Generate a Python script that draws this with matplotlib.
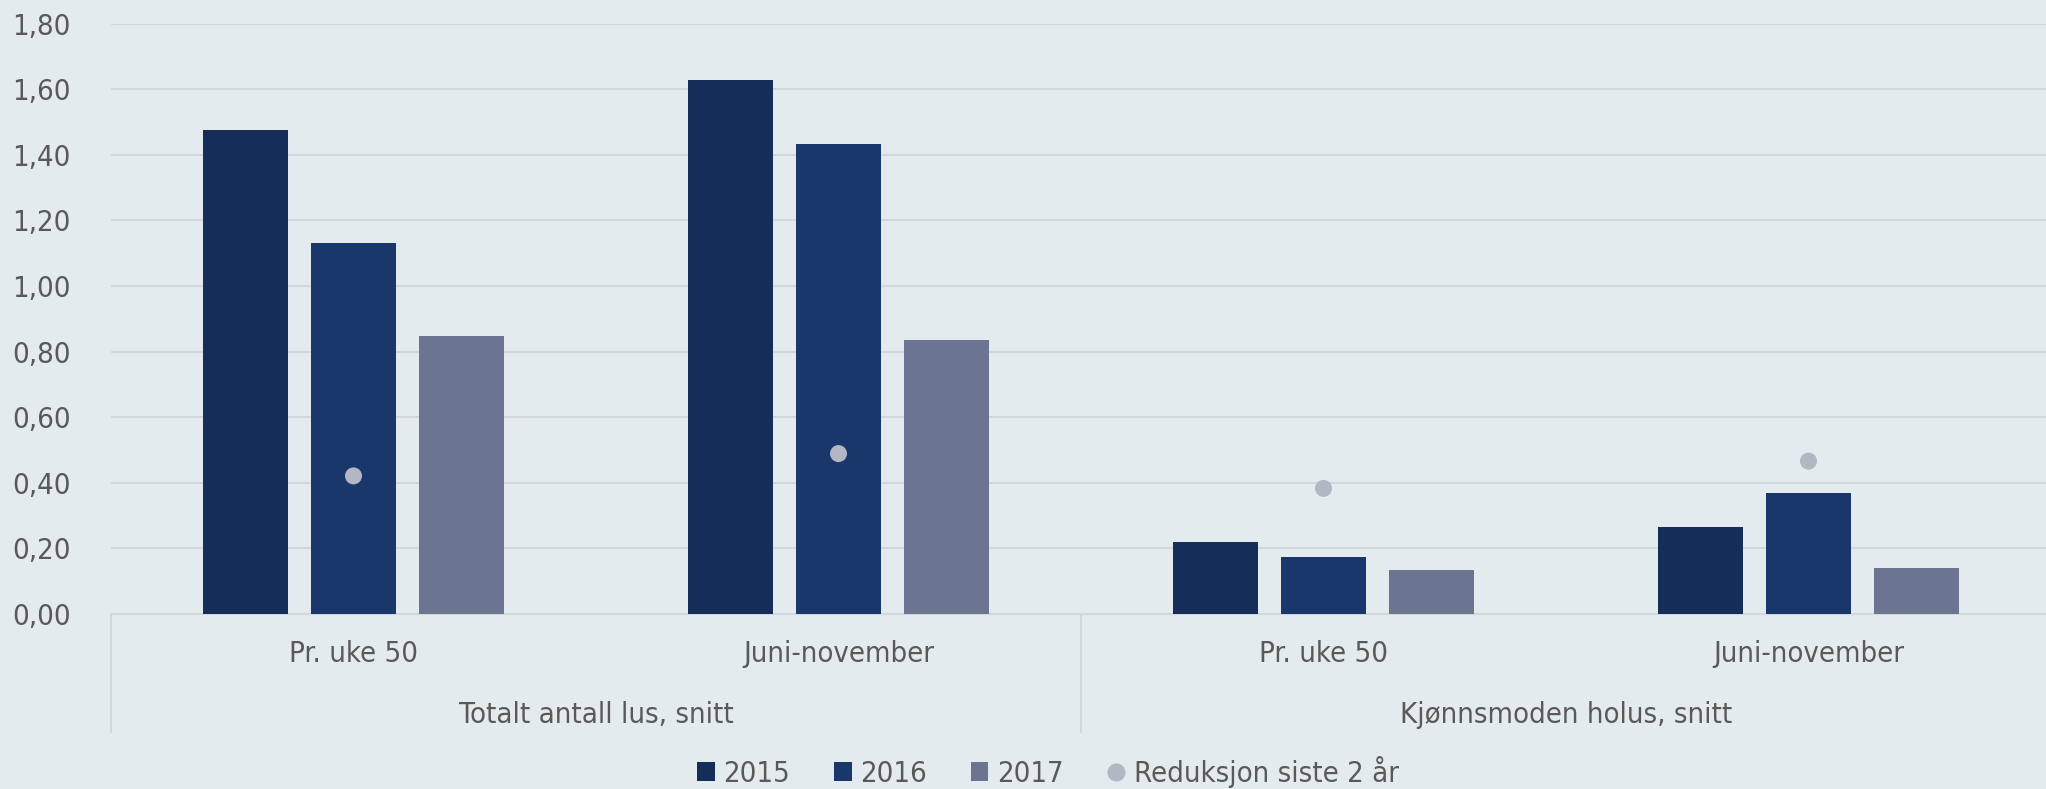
import matplotlib.pyplot as plt
from matplotlib.patches import Patch
from matplotlib.lines import Line2D
import numpy as np

# data
groups = ['Totalt antall lus, snitt', 'Kjønnsmoden holus, snitt']
periods = ['Pr. uke 50', 'Juni-november', 'Pr. uke 50', 'Juni-november']
years = ['2015', '2016', '2017']
v2015 = [1.474, 1.629, 0.219, 0.265]
v2016 = [1.132, 1.434, 0.174, 0.368]
v2017 = [0.846, 0.834, 0.135, 0.141]
reduksjon = [0.421, 0.489, 0.383, 0.466]
yticks = [0.0, 0.2, 0.4, 0.6, 0.8, 1.0, 1.2, 1.4, 1.6, 1.8]

bg = '#e4ebee'
colors = ['#142e59', '#1a376c', '#6b7490']
dot_color = '#b3b7c4'
text_color = '#595959'
grid_color = '#d3d6db'

plt.rcParams['font.family'] = ['DejaVu Sans']
plt.rcParams['font.stretch'] = 'condensed'

fig = plt.figure(figsize=(20.46, 7.89), dpi=100, facecolor=bg)
W, H = 2046, 789
ax = fig.add_axes([111 / W, (H - 614) / H, 1940 / W, (614 - 23.5) / H])
ax.set_facecolor(bg)

x = np.arange(len(periods))
bw = 0.175
step = 0.222
for i, vals in enumerate([v2015, v2016, v2017]):
    ax.bar(x + (i - 1) * step, vals, width=bw, color=colors[i], zorder=3)
ax.scatter(x, reduksjon, s=150, color=dot_color, zorder=4, edgecolors='none')

ax.set_xlim(-0.5, 3.5)
ax.set_ylim(0, 1.8)
ax.set_yticks(yticks)
ax.set_yticklabels([f'{t:.2f}'.replace('.', ',') for t in yticks])
ax.tick_params(axis='y', length=0, pad=29, labelsize=21, labelcolor=text_color)
ax.set_xticks([])
ax.grid(axis='y', color=grid_color, linewidth=1.5, zorder=0)
for s in ['top', 'right', 'left']:
    ax.spines[s].set_visible(False)
ax.spines['bottom'].set_color(grid_color)
ax.spines['bottom'].set_linewidth(1.5)

# two-level category axis
tr = ax.get_xaxis_transform()
h_axes = 614 - 23.5
for xs in [-0.5, 1.5, 3.5]:
    ax.plot([xs, xs], [0, -(732 - 614) / h_axes], transform=tr, color=grid_color,
            linewidth=1.5, clip_on=False)
for xi, p in zip(x, periods):
    ax.text(xi, -(654 - 614) / h_axes, p, transform=tr, ha='center', va='center',
            fontsize=21, color=text_color)
for gi, g in enumerate(groups):
    ax.text(0.5 + 2 * gi, -(715 - 614) / h_axes, g, transform=tr, ha='center',
            va='center', fontsize=21, color=text_color)

handles = [Patch(facecolor=c, edgecolor='none') for c in colors]
handles.append(Line2D([], [], marker='o', linestyle='none', color=dot_color,
                      markersize=12))
labels = years + ['Reduksjon siste 2 år']
fig.legend(handles, labels, loc='center', bbox_to_anchor=(1048 / W, 1 - 772 / H),
           ncol=4, frameon=False, fontsize=21, labelcolor=text_color,
           handlelength=0.6, handleheight=0.6, handletextpad=0.3, columnspacing=1.5)

fig.savefig('out.png', dpi=100, facecolor=bg)
